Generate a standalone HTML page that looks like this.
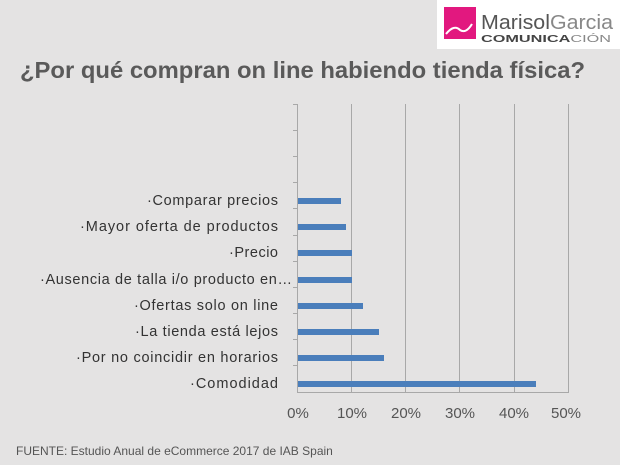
<!DOCTYPE html>
<html><head><meta charset="utf-8"><style>
html,body{margin:0;padding:0;background:#e4e3e3;}
svg{display:block;}
</style></head><body>
<svg width="620" height="465" viewBox="0 0 620 465" xmlns="http://www.w3.org/2000/svg" font-family="Liberation Sans, sans-serif">
<rect width="620" height="465" fill="#e4e3e3"/>
<rect x="437" y="0" width="183" height="49" fill="#fff"/>
<rect x="444" y="7" width="32" height="32" fill="#e2187f"/>
<path d="M446 34 q8 -10 14 -4 q6 4 12 -6" stroke="#fff" stroke-width="2" fill="none"/>
<text x="481" y="29" font-size="20" fill="#555" textLength="132" lengthAdjust="spacingAndGlyphs">Marisol<tspan fill="#888">Garcia</tspan></text>
<text x="481" y="42" font-size="10" font-weight="bold" fill="#444" textLength="130" lengthAdjust="spacingAndGlyphs">COMUNICA<tspan fill="#888" font-weight="normal">CIÓN</tspan></text>
<text x="20" y="78" font-size="23" font-weight="bold" fill="#5a5a5a" textLength="565" lengthAdjust="spacingAndGlyphs">¿Por qué compran on line habiendo tienda física?</text>
<g stroke="#a8a8a8" stroke-width="1">
<line x1="351.5" y1="104" x2="351.5" y2="392"/>
<line x1="405.5" y1="104" x2="405.5" y2="392"/>
<line x1="459.5" y1="104" x2="459.5" y2="392"/>
<line x1="514.5" y1="104" x2="514.5" y2="392"/>
<line x1="568.5" y1="104" x2="568.5" y2="392"/>
<line x1="297.5" y1="104" x2="297.5" y2="392"/>
<line x1="297" y1="392.5" x2="569" y2="392.5"/>
<g>
<line x1="293" y1="104.5" x2="297" y2="104.5"/><line x1="293" y1="130.5" x2="297" y2="130.5"/>
<line x1="293" y1="156.5" x2="297" y2="156.5"/><line x1="293" y1="182.5" x2="297" y2="182.5"/>
<line x1="293" y1="208.5" x2="297" y2="208.5"/><line x1="293" y1="235.5" x2="297" y2="235.5"/>
<line x1="293" y1="261.5" x2="297" y2="261.5"/><line x1="293" y1="287.5" x2="297" y2="287.5"/>
<line x1="293" y1="313.5" x2="297" y2="313.5"/><line x1="293" y1="339.5" x2="297" y2="339.5"/>
<line x1="293" y1="365.5" x2="297" y2="365.5"/>
</g>
</g>
<g fill="#4a7ebb">
<rect x="298" y="198" width="43" height="6"/>
<rect x="298" y="224" width="48" height="6"/>
<rect x="298" y="250" width="54" height="6"/>
<rect x="298" y="277" width="54" height="6"/>
<rect x="298" y="303" width="65" height="6"/>
<rect x="298" y="329" width="81" height="6"/>
<rect x="298" y="355" width="86" height="6"/>
<rect x="298" y="381" width="238" height="6"/>
</g>
<g font-size="14.5" fill="#333" lengthAdjust="spacingAndGlyphs">
<text x="147" y="205" textLength="131">·Comparar precios</text>
<text x="80" y="231" textLength="198">·Mayor oferta de productos</text>
<text x="229" y="257" textLength="49">·Precio</text>
<text x="40" y="284" textLength="252">·Ausencia de talla i/o producto en…</text>
<text x="134" y="310" textLength="144">·Ofertas solo on line</text>
<text x="135" y="336" textLength="143">·La tienda está lejos</text>
<text x="76" y="362" textLength="202">·Por no coincidir en horarios</text>
<text x="190" y="388" textLength="88">·Comodidad</text>
</g>
<g font-size="15" fill="#555" text-anchor="middle">
<text x="298" y="418">0%</text><text x="352" y="418">10%</text><text x="406" y="418">20%</text>
<text x="460" y="418">30%</text><text x="514" y="418">40%</text><text x="566" y="418">50%</text>
</g>
<text x="16" y="455" font-size="12" fill="#555">FUENTE: Estudio Anual de eCommerce 2017 de IAB Spain</text>
</svg>
</body></html>
